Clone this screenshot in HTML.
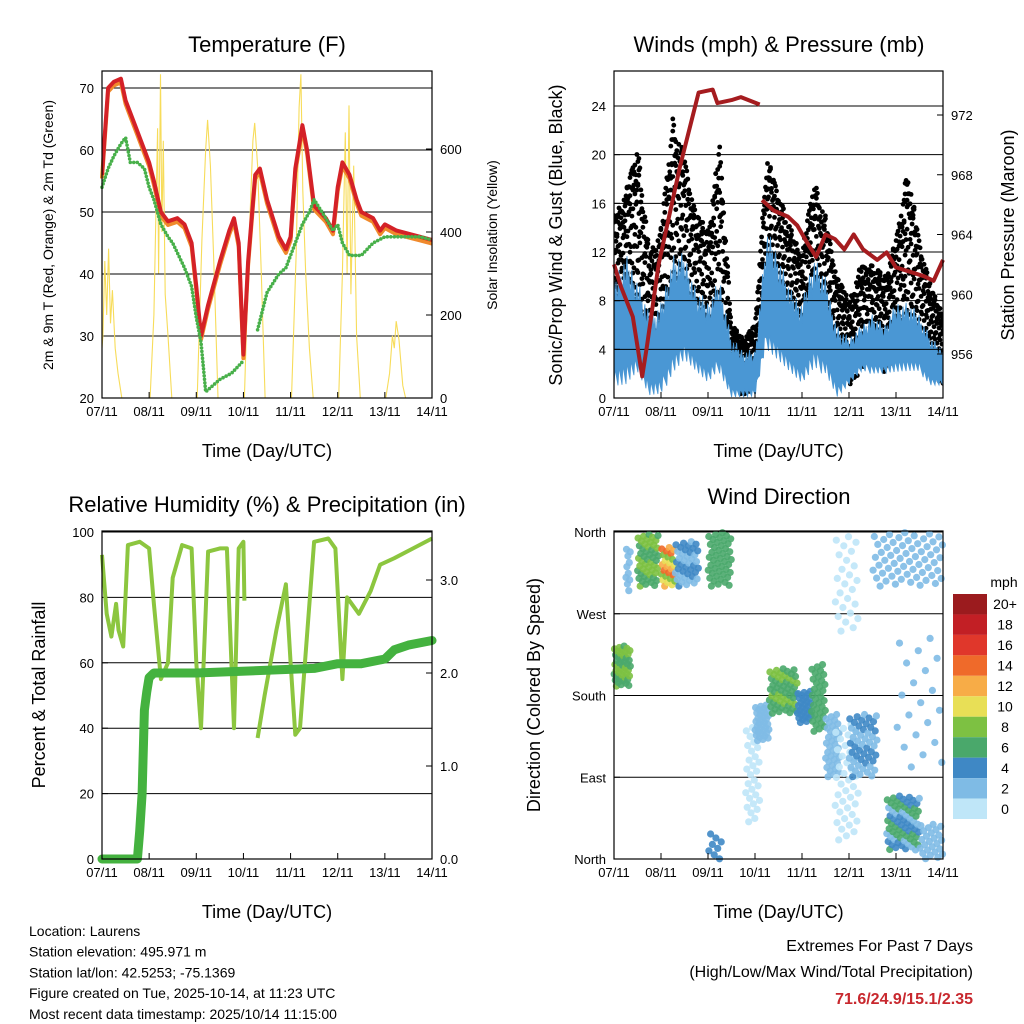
<!DOCTYPE html>
<html><head><meta charset="utf-8">
<style>
html,body{margin:0;padding:0;background:#fff;}
svg{display:block;font-family:"Liberation Sans",Arial,sans-serif;}
</style></head>
<body>
<svg id="c" width="1024" height="1024" viewBox="0 0 1024 1024" xmlns="http://www.w3.org/2000/svg"></svg>
<script>
// ---------- DATA ----------
const dayLabels = ["07/11","08/11","09/11","10/11","11/11","12/11","13/11","14/11"];
// Temperature (F), red 2m/9m T
const tempT = [0,0.13,0.25,0.4,0.5,0.75,0.9,1.0,1.1,1.25,1.4,1.6,1.75,1.9,2.0,2.1,2.25,2.5,2.7,2.8,2.9,3.0,3.1,3.25,3.35,3.5,3.75,3.9,4.0,4.1,4.25,4.35,4.5,4.75,4.9,5.0,5.1,5.25,5.4,5.5,5.75,5.9,6.0,6.25,6.5,6.75,7.0];
const tempV = [56,70,71,71.5,68,63,60,58,55,50,48.5,49,48,45,38,30,35,42,47,49,45,27,42,56,57,52,46,44,46,57,64,60,51,49,47,54,58,56,52,50,49,47,48,47,46.5,46,45.5];
// Dew point (F)
const dewT = [0,0.13,0.25,0.4,0.5,0.6,0.75,0.9,1.0,1.1,1.25,1.4,1.5,1.75,1.9,2.0,2.1,2.2,2.5,2.75,3.0,null,3.3,3.5,3.75,3.9,4.0,4.1,4.25,4.4,4.5,4.75,4.9,5.0,5.1,5.25,5.5,5.75,6.0,6.25,6.5,6.75,7.0];
const dewV = [54,57,59,61,62,58,58,57,54,52,48,46,45,41,38,33,29,21,23,24,26,null,31,37,40,41,43,45,48,50,52,49,47,48,45,43,43,45,46,46,46,46,45.5];
// Solar insolation (W/m2)
const solT = [0,0.02,0.06,0.1,0.14,0.18,0.22,0.28,0.34,0.42,1.02,1.1,1.18,1.2,1.24,1.27,1.3,1.34,1.4,1.48,2.02,2.12,2.2,2.24,2.3,2.38,2.46,3.02,3.12,3.2,3.24,3.3,3.38,3.46,4.02,4.12,4.18,4.22,4.26,4.32,4.4,4.48,5.02,5.1,5.16,5.2,5.24,5.28,5.34,5.4,5.48,6.02,6.1,6.16,6.2,6.24,6.3,6.38,6.44,7.0];
const solV = [120,150,330,200,360,180,260,120,60,0,0,200,650,300,780,400,620,250,150,0,0,380,600,670,560,300,0,0,380,620,663,560,300,0,0,350,700,780,500,300,120,0,0,300,640,300,705,250,560,150,0,0,60,150,120,185,140,30,0,0];
// Winds (mph), per-interval ranges
const windT = [0,0.25,0.5,0.75,1.0,1.25,1.5,1.75,2.0,2.25,2.5,2.75,3.0,3.25,3.5,3.75,4.0,4.25,4.5,4.75,5.0,5.25,5.5,5.75,6.0,6.25,6.5,6.75,7.0];
const windLo = [1,1,2,0,0,2,3,2,1,2,0,0,0,4,3,2,1,2,2,0,1,2,2,2,2,2,2,1,1];
const windHi = [10,12,10,7,8,12,12,9,8,10,5,4,4,14,12,9,8,12,10,6,5,6,7,6,8,8,7,5,4];
const gustLo = [4,8,6,3,2,8,7,4,3,6,1,0,1,8,6,4,3,5,4,2,1,2,3,2,3,5,3,2,1];
const gustHi = [15,17,21,12,14,23,20,15,14,21,6,5,6,20,17,14,12,18,15,10,8,11,11,10,13,19,13,9,7];
// Pressure (mb)
const presT = [0,0.15,0.4,0.6,0.7,0.95,1.4,1.8,2.1,2.2,2.5,2.7,3.1,null,3.15,3.4,3.7,3.9,4.1,4.3,4.5,4.7,4.9,5.1,5.3,5.6,5.8,6.0,6.3,6.6,6.8,7.0];
const presV = [962,960.5,958.5,954.5,956.5,962,968.5,973.5,973.7,972.8,973,973.2,972.7,null,966.3,965.6,965.2,964.6,963.5,962.5,964,963.7,963,964,963,962.3,962.8,961.8,961.5,961.2,960.9,962.3];
// Relative humidity (%)
const rhT = [0,0.1,0.2,0.3,0.35,0.45,0.55,0.8,1.0,1.1,1.25,1.4,1.5,1.7,1.9,2.0,2.1,2.25,2.5,2.65,2.8,2.9,3.0,3.02,null,3.3,3.45,3.7,3.9,4.0,4.1,4.2,4.5,4.8,4.95,5.1,5.2,5.45,5.7,5.9,6.2,6.6,7.0];
const rhV = [93,75,68,78,70,65,96,97,95,78,55,60,86,96,95,60,40,94,95,95,40,95,97,79,null,37,50,70,84,60,38,40,97,98,95,55,80,75,82,90,92,95,98];
// Cumulative precipitation (in)
const prT = [0,0.75,0.8,0.85,0.9,0.95,1.0,1.1,2.0,4.5,5.0,5.5,6.0,6.2,6.5,7.0];
const prV = [0,0,0.3,0.7,1.6,1.8,1.95,2.0,2.0,2.05,2.1,2.1,2.15,2.25,2.3,2.35];
// Wind direction clusters: [tStart, tEnd, dirLo, dirHi, spdLo, spdHi, count]
const dirClusters = [
 [0.0,0.35,190,235,6,10,45],[0.25,0.35,295,345,2,3,10],[0.5,0.95,300,358,6,10,50],
 [1.0,1.3,300,345,8,16,25],[1.3,1.8,300,350,3,5,40],[2.0,2.5,300,360,6,8,45],
 [2.0,2.3,0,30,4,6,8],[2.8,3.1,40,150,0,2,30],[3.0,3.3,130,170,2,3,35],
 [3.3,3.9,160,210,6,9,55],[3.9,4.2,150,185,4,5,30],[4.2,4.5,140,215,6,8,35],
 [4.5,4.8,90,160,2,4,35],[4.7,5.2,20,150,0,2,40],[4.7,5.2,250,360,0,2,25],
 [5.0,5.6,90,160,3,5,50],[5.8,6.5,10,70,3,8,70],[5.5,7.0,300,360,2,4,60],
 [6.0,7.0,100,250,2,3,20],[6.5,7.0,0,40,2,3,25]];
const cbLabels = ["20+","18","16","14","12","10","8","6","4","2","0"];
const cbColors = ["#9b1b1e","#c21f25","#e0372b","#ef6a2a","#f7ac47","#e8df56","#7dc142","#4aa86b","#3f88c5","#7fbbe5","#bfe6f8"];

// ---------- HELPERS ----------
const NS="http://www.w3.org/2000/svg";
const svg=document.getElementById('c');
function el(tag,attrs,parent){const e=document.createElementNS(NS,tag);for(const k in attrs)e.setAttribute(k,attrs[k]);(parent||svg).appendChild(e);return e;}
function txt(s,x,y,size,anchor,parent,extra){const e=el('text',Object.assign({x:x,y:y,'font-size':size,'text-anchor':anchor||'middle',fill:'#000'},extra||{}),parent);e.textContent=s;return e;}
function lin(d0,d1,r0,r1){return v=>r0+(v-d0)/(d1-d0)*(r1-r0);}
function pathFrom(ts,vs,fx,fy){let d='',pen=false;for(let i=0;i<ts.length;i++){if(ts[i]===null||vs[i]===null){pen=false;continue;}d+=(pen?'L':'M')+fx(ts[i]).toFixed(1)+','+fy(vs[i]).toFixed(1);pen=true;}return d;}
function interp(ts,vs,t){for(let i=0;i<ts.length-1;i++){if(t>=ts[i]&&t<=ts[i+1]){const f=(t-ts[i])/(ts[i+1]-ts[i]);return vs[i]+f*(vs[i+1]-vs[i]);}}return vs[vs.length-1];}
function spdColor(s){let i=Math.min(10,Math.max(0,Math.floor(s/2)));return cbColors[10-i];}

function frame(g,x0,y0,x1,y1){
  const f=el('rect',{x:x0,y:y0,width:x1-x0,height:y1-y0,fill:'none',stroke:'#000','stroke-width':1.2},g);
  
}
function xAxis(g,x0,x1,y1,title){
  const fx=lin(0,7,x0,x1);
  for(let i=0;i<dayLabels.length;i++){
    const x=fx(i);
    const t=el('line',{x1:x,x2:x,y1:y1,y2:y1-6,stroke:'#000'},g);
    
    const l=txt(dayLabels[i],x,y1+18,13,'middle',g);
    
  }
  const tt=txt(title,(x0+x1)/2,y1+59,18,'middle',g);
  
  return fx;
}
function yTicks(g,vals,labels,fy,x,side,grid,x0,x1){
  for(let i=0;i<vals.length;i++){
    const y=fy(vals[i]);
    if(grid){const gl=el('line',{x1:x0,x2:x1,y1:y,y2:y,stroke:'#000','stroke-width':1},g);
      }
    const t=el('line',{x1:x,x2:x+(side==='l'?6:-6),y1:y,y2:y,stroke:'#000'},g);
    
    const l=txt(labels[i],side==='l'?x-8:x+8,y+5,13,side==='l'?'end':'start',g);
    
  }
}
function vTitle(g,s,x,y,size){const t=txt(s,x,y,size,'middle',g,{transform:`rotate(-90 ${x} ${y})`});return t;}

// ---------- PANEL 1: TEMPERATURE ----------
(function(){
  const g=el('g',{});
  const x0=102,x1=432,y0=71,y1=398;
  const fx=lin(0,7,x0,x1), fy=lin(20,70,398,88), fr=lin(0,600,398,149);
  const tt=txt('Temperature (F)',267,52,22,'middle',g);
  yTicks(g,[20,30,40,50,60,70],["20","30","40","50","60","70"],fy,x0,'l',true,x0,x1);
  yTicks(g,[0,200,400,600],["0","200","400","600"],fr,x1,'r',false);
  const cp=el('clipPath',{id:'cp1'},g);el('rect',{x:x0,y:y0,width:x1-x0,height:y1-y0},cp);
  const s=el('path',{d:pathFrom(solT,solV,fx,fr),fill:'none',stroke:'#f7dc5a','stroke-width':1.1,'clip-path':'url(#cp1)'},g);
  
  const o=el('path',{d:pathFrom(tempT,tempV.map(v=>v-0.6),fx,fy),fill:'none',stroke:'#f08a2c','stroke-width':4,'stroke-linejoin':'round'},g);
  
  const r=el('path',{d:pathFrom(tempT,tempV,fx,fy),fill:'none',stroke:'#d42127','stroke-width':4,'stroke-linejoin':'round','clip-path':'url(#cp1)'},g);
  
  const d=el('path',{d:pathFrom(dewT,dewV,fx,fy),fill:'none',stroke:'#48b04a','stroke-width':3.6,'stroke-linecap':'round','stroke-dasharray':'0 3.5'},g);
  
  frame(g,x0,y0,x1,y1);
  xAxis(g,x0,x1,y1,'Time (Day/UTC)');
  const yl=vTitle(g,'2m & 9m T (Red, Orange) & 2m Td (Green)',53,235,14);
  const yr=vTitle(g,'Solar Insolation (Yellow)',497,235,14);
})();

// ---------- PANEL 2: WINDS ----------
(function(){
  const g=el('g',{});
  const x0=614,x1=943,y0=71,y1=398;
  const fx=lin(0,7,x0,x1), fy=lin(0,24,398,106), fp=lin(956,972,354,115);
  const tt=txt('Winds (mph) & Pressure (mb)',779,52,22,'middle',g);
  const cp=el('clipPath',{id:'cp2'},g);el('rect',{x:x0,y:y0,width:x1-x0,height:y1-y0},cp);
  // gust points
  const gg=el('g',{'clip-path':'url(#cp2)',fill:'#000'},g);
  
  const N=330;
  for(let k=0;k<=N;k++){
    const t=7*k/N;
    const lo=interp(windT,gustLo,t), hi=interp(windT,gustHi,t);
    for(let j=0;j<6;j++){
      const f=((k*0.618034+j*0.1666+0.05*j*j)%1);
      const v=lo+(hi-lo)*(j===0?1-f*0.25:f);
      const c=el('circle',{cx:fx(t).toFixed(1),cy:fy(v).toFixed(1),r:2.4},gg);
      
      
    }
  }
  // wind band (jagged)
  let top=[],bot=[];
  for(let k=0;k<=N;k++){
    const t=7*k/N;
    const lo=interp(windT,windLo,t), hi=interp(windT,windHi,t);
    const f=(k*0.618034)%1, f2=(k*0.7548777)%1;
    top.push(fx(t).toFixed(1)+','+fy(hi-(hi-lo)*0.35*f).toFixed(1));
    bot.push(fx(t).toFixed(1)+','+fy(lo+(hi-lo)*0.2*f2).toFixed(1));
  }
  const wb=el('path',{d:'M'+top.join('L')+'L'+bot.reverse().join('L')+'Z',fill:'#4a97d4',stroke:'#4a97d4','stroke-width':0.8,'clip-path':'url(#cp2)'},g);
  
  yTicks(g,[0,4,8,12,16,20,24],["0","4","8","12","16","20","24"],fy,x0,'l',true,x0,x1);
  yTicks(g,[956,960,964,968,972],["956","960","964","968","972"],fp,x1,'r',false);
  const p=el('path',{d:pathFrom(presT,presV,fx,fp),fill:'none',stroke:'#a51c1f','stroke-width':4,'stroke-linejoin':'round'},g);
  
  frame(g,x0,y0,x1,y1);
  xAxis(g,x0,x1,y1,'Time (Day/UTC)');
  const yl=vTitle(g,'Sonic/Prop Wind & Gust (Blue, Black)',562,235,18);
  const yr=vTitle(g,'Station Pressure (Maroon)',1014,235,18);
})();

// ---------- PANEL 3: RH & PRECIP ----------
(function(){
  const g=el('g',{});
  const x0=102,x1=432,y0=531,y1=859;
  const fx=lin(0,7,x0,x1), fy=lin(0,100,859,532), fr=lin(0,3,859,580);
  const tt=txt('Relative Humidity (%) & Precipitation (in)',267,512,22,'middle',g);
  yTicks(g,[0,20,40,60,80,100],["0","20","40","60","80","100"],fy,x0,'l',true,x0,x1);
  yTicks(g,[0,1,2,3],["0.0","1.0","2.0","3.0"],fr,x1,'r',false);
  const rh=el('path',{d:pathFrom(rhT,rhV,fx,fy),fill:'none',stroke:'#8cc63f','stroke-width':4,'stroke-linejoin':'round'},g);
  
  const pr=el('path',{d:pathFrom(prT,prV,fx,fr),fill:'none',stroke:'#44b23f','stroke-width':9,'stroke-linejoin':'round','stroke-linecap':'round'},g);
  
  frame(g,x0,y0,x1,y1);
  xAxis(g,x0,x1,y1,'Time (Day/UTC)');
  const yl=vTitle(g,'Percent & Total Rainfall',45,695,18);
})();

// ---------- PANEL 4: WIND DIRECTION ----------
(function(){
  const g=el('g',{});
  const x0=614,x1=943,y0=531,y1=859;
  const fx=lin(0,7,x0,x1), fy=lin(0,360,859,532);
  const tt=txt('Wind Direction',779,504,22,'middle',g);
  yTicks(g,[0,90,180,270,360],["North","East","South","West","North"],fy,x0,'l',true,x0,x1);
  const cp=el('clipPath',{id:'cp4'},g);el('rect',{x:x0-4,y:y0-4,width:x1-x0+8,height:y1-y0+8},cp);
  const pg=el('g',{'clip-path':'url(#cp4)','fill-opacity':0.9},g);
  
  for(const c of dirClusters){
    const [t0,t1,dl,dh,sl,sh,n]=c;
    for(let k=0;k<n;k++){
      const a=(k+0.5)/n, b=(k*0.618034+0.3)%1, s=(k*0.7548777+0.1)%1;
      const spd=sl+(sh-sl)*s;
      const pt=el('circle',{cx:fx(t0+(t1-t0)*a).toFixed(1),cy:fy(dl+(dh-dl)*b).toFixed(1),r:3.6,fill:spdColor(spd)},pg);
      
      
    }
  }
  frame(g,x0,y0,x1,y1);
  xAxis(g,x0,x1,y1,'Time (Day/UTC)');
  const yl=vTitle(g,'Direction (Colored By Speed)',540,695,18);
  // colorbar
  const cb=el('g',{},svg);
  const u=txt('mph',1004,587,14,'middle',cb);
  const bh=(819-594)/cbLabels.length;
  for(let i=0;i<cbLabels.length;i++){
    const r=el('rect',{x:953,y:594+i*bh,width:34,height:bh,fill:cbColors[i]},cb);
    
    const l=txt(cbLabels[i],1005,594+i*bh+bh/2+5,14,'middle',cb);
    
  }
})();

// ---------- FOOTER ----------
(function(){
  const g=el('g',{});
  const lines=["Location: Laurens","Station elevation: 495.971 m","Station lat/lon: 42.5253; -75.1369","Figure created on Tue, 2025-10-14, at 11:23 UTC","Most recent data timestamp: 2025/10/14 11:15:00"];
  lines.forEach((s,i)=>{const t=txt(s,29,936+i*20.7,14,'start',g);});
  const h=el('g',{});
  const a=txt('Extremes For Past 7 Days',973,951,16,'end',h);
  const b=txt('(High/Low/Max Wind/Total Precipitation)',973,977,16,'end',h);
  const c=txt('71.6/24.9/15.1/2.35',973,1004,16,'end',h,{fill:'#c8282e','font-weight':'bold'});
})();
</script>
</body></html>
